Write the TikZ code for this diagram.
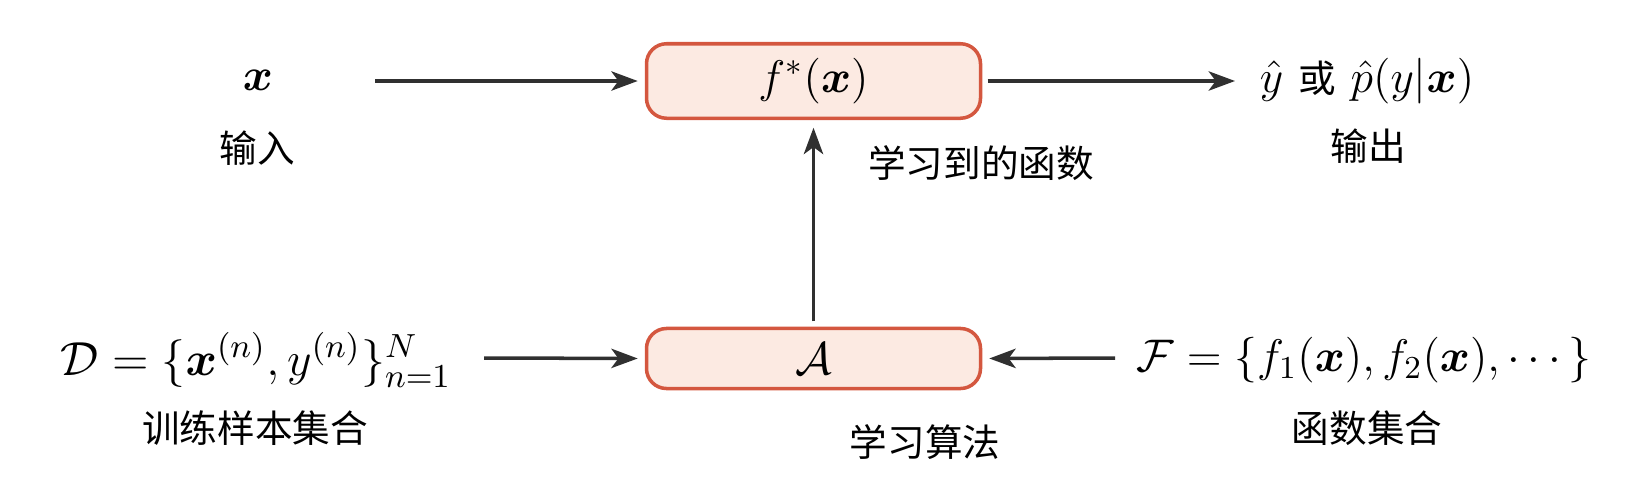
\RequirePackage{fix-cm}
\documentclass[tikz,border=0pt]{standalone}
\usepackage{amsmath,amssymb}
\usepackage{bm}
\usepackage{fontspec}
\newfontfamily\cjk{Noto Sans CJK SC}
\usepackage{xcolor}
\usetikzlibrary{arrows.meta}

\definecolor{boxred}{HTML}{D4573F}
\definecolor{boxfill}{HTML}{FCEAE2}
\definecolor{arrowgray}{HTML}{303030}

\begin{document}
\begin{tikzpicture}[
  >={Stealth[length=7.5pt,width=5.5pt,inset=2pt]},
  block/.style={draw=boxred, fill=boxfill, rounded corners=0.2cm, line width=1pt, minimum width=3.34cm, inner ysep=4.1pt, font=\fontsize{13}{15}\selectfont},
  mathlab/.style={inner sep=0pt, font=\fontsize{13}{15}\selectfont},
  cnlab/.style={inner sep=0pt, font=\fontsize{10.7}{13}\selectfont\cjk},
  arrow/.style={->, line width=1pt, draw=arrowgray}
]
\useasboundingbox (0,0) rectangle (16.28,-4.76);

% boxes
\node[block] (fbox) at (8.135,-0.81) {$f^{*}(\bm{x})$};
\node[block] (abox) at (8.135,-3.585) {$\mathcal{A}$};

% inputs and outputs
\node[mathlab] (xin) at (2.58,-0.80) {$\bm{x}$};
\node[cnlab] (xinlab) at (2.57,-1.48) {输入};
\node[mathlab] (yout) at (13.67,-0.81) {$\hat{y}$\ {\cjk\fontsize{10.7}{13}\selectfont 或}\ $\hat{p}(y|\bm{x})$};
\node[cnlab] (youtlab) at (13.68,-1.46) {输出};
\node[cnlab] (flab) at (9.81,-1.63) {学习到的函数};

\node[mathlab, font=\fontsize{13.6}{16}\selectfont] (dset) at (2.56,-3.60) {$\mathcal{D}=\{\bm{x}^{(n)},y^{(n)}\}_{n=1}^{N}$};
\node[cnlab] (dsetlab) at (2.55,-4.28) {训练样本集合};
\node[mathlab] (fset) at (13.64,-3.60) {$\mathcal{F}=\{f_1(\bm{x}),f_2(\bm{x}),\cdots\}$};
\node[cnlab] (fsetlab) at (13.67,-4.28) {函数集合};
\node[cnlab] (alab) at (9.25,-4.42) {学习算法};

% free ends
\coordinate (xtail) at (3.75,-0.81);
\coordinate (ytip) at (12.35,-0.81);
\coordinate (dtail) at (4.84,-3.58);
\coordinate (ftail) at (11.15,-3.58);

\draw[arrow, shorten >=2pt] (xtail) -- (fbox.west);
\draw[arrow, shorten <=1.5pt] (fbox.east) -- (ytip);
\draw[arrow, shorten <=1.5pt, shorten >=2.2pt] (abox.north) -- (fbox.south);
\draw[arrow, shorten >=2pt] (dtail) -- (abox.west);
\draw[arrow, shorten >=2pt] (ftail) -- (abox.east);

\end{tikzpicture}
\end{document}
